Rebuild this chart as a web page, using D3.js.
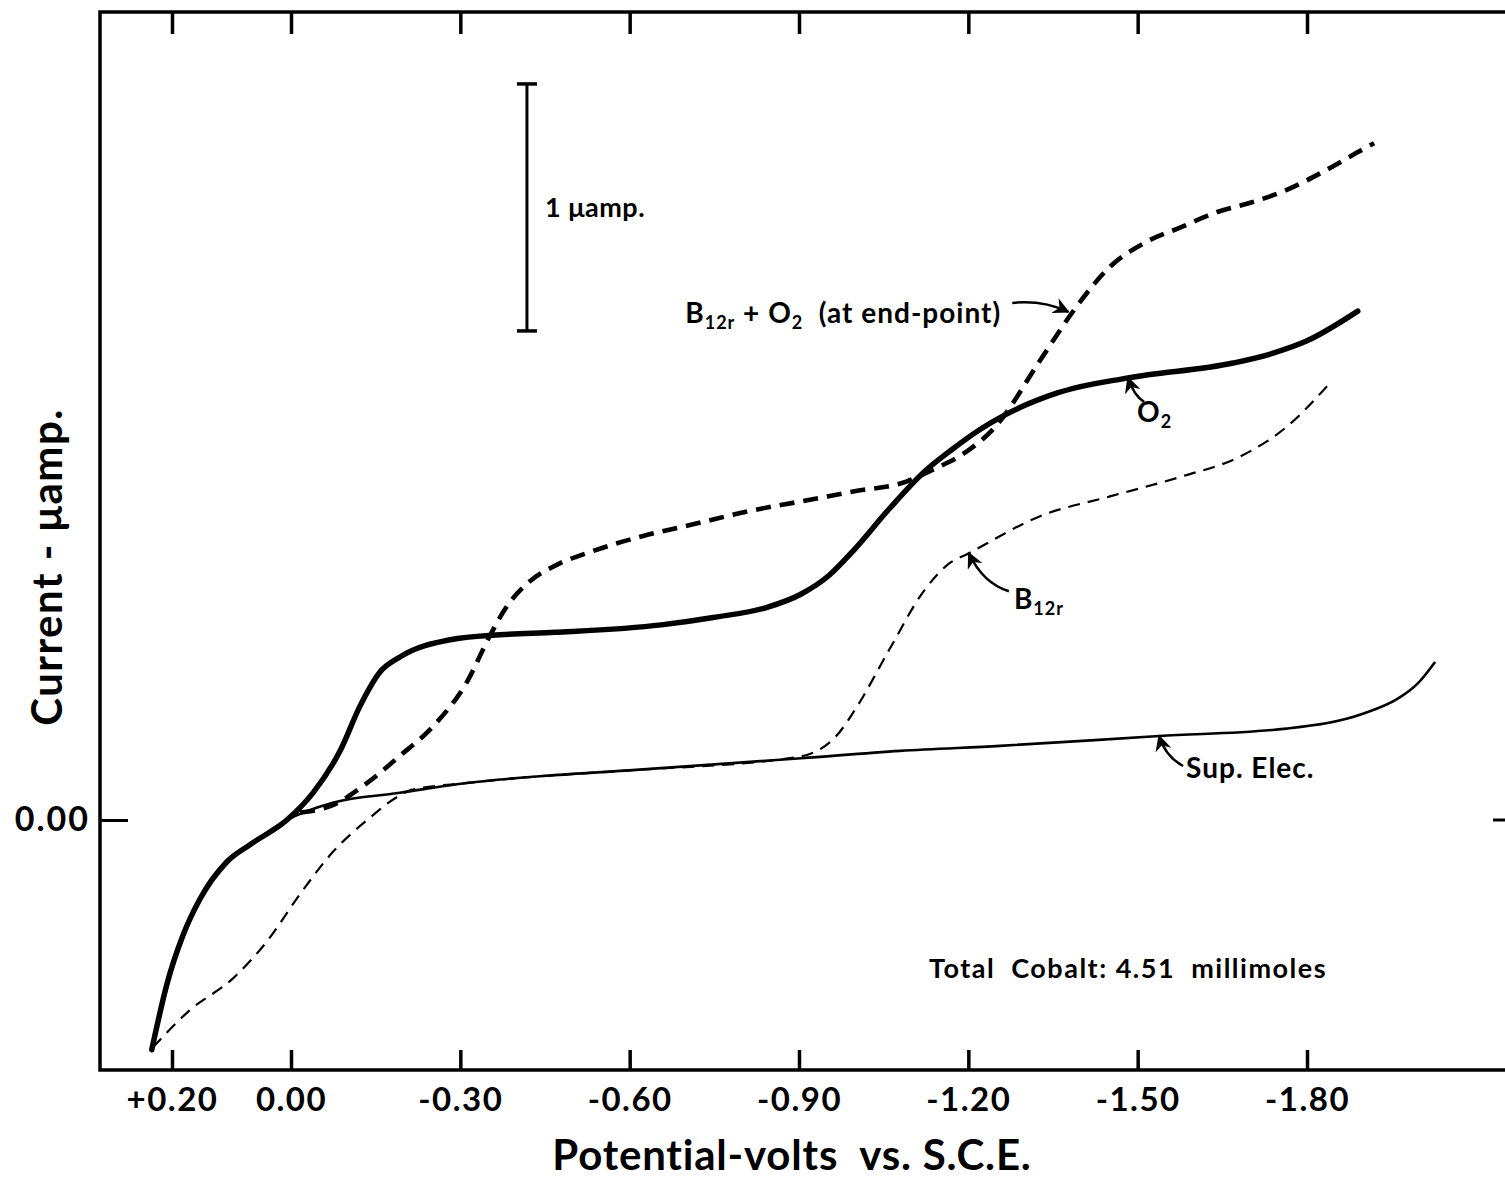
<!DOCTYPE html>
<html>
<head>
<meta charset="utf-8">
<script src="https://cdn.jsdelivr.net/npm/d3@7"></script>
<style>
  body { margin: 0; background: #fff; }
  svg text { font-family: Lato, "DejaVu Sans", sans-serif; font-weight: 700; fill: #000; white-space: pre; }
</style>
</head>
<body>
<svg id="chart" width="1505" height="1180"></svg>
<script>
// x = potential (volts vs. S.C.E.), y = current (microamp)
var xTicks = [0.2, 0, -0.3, -0.6, -0.9, -1.2, -1.5, -1.8];
var xTickLabels = ["+0.20", "0.00", "-0.30", "-0.60", "-0.90", "-1.20", "-1.50", "-1.80"];
var yTicks = [0];
var yTickLabels = ["0.00"];

// O2 (thick solid)
var o2 = [[0.234,-0.93],[0.208,-0.66],[0.182,-0.47],[0.153,-0.32],[0.108,-0.17],[0.069,-0.10],[0.007,0.00],
  [-0.039,0.11],[-0.087,0.28],[-0.122,0.46],[-0.158,0.60],[-0.193,0.66],[-0.282,0.73],[-0.370,0.75],
  [-0.468,0.76],[-0.656,0.79],[-0.748,0.82],[-0.842,0.86],[-0.904,0.915],[-0.953,0.99],[-0.996,1.09],
  [-1.060,1.26],[-1.122,1.41],[-1.171,1.50],[-1.220,1.58],[-1.265,1.64],[-1.359,1.73],[-1.483,1.79],
  [-1.669,1.85],[-1.740,1.89],[-1.800,1.94],[-1.890,2.06]];

// supporting electrolyte (thin solid)
var supElec = [[0.234,-0.93],[0.208,-0.66],[0.182,-0.47],[0.153,-0.32],[0.108,-0.17],[0.069,-0.10],[0.007,0.00],
  [-0.074,0.07],[-0.193,0.11],[-0.312,0.15],[-0.459,0.18],[-0.592,0.20],[-0.904,0.25],[-1.079,0.28],
  [-1.256,0.30],[-1.538,0.34],[-1.763,0.37],[-1.899,0.43],[-1.960,0.49],[-1.995,0.55],[-2.027,0.64]];

// B12r (thin dashed)
var b12r = [[0.232,-0.92],[0.170,-0.77],[0.097,-0.64],[0.040,-0.49],[-0.016,-0.30],[-0.074,-0.13],
  [-0.135,0.00],[-0.193,0.10],[-0.211,0.12],[-0.312,0.15],[-0.459,0.18],[-0.592,0.20],[-0.897,0.255],
  [-0.966,0.34],[-1.003,0.46],[-1.060,0.69],[-1.122,0.93],[-1.164,1.035],[-1.201,1.08],[-1.327,1.23],
  [-1.451,1.31],[-1.577,1.39],[-1.680,1.47],[-1.763,1.59],[-1.841,1.77]];

// B12r + O2 at end-point (thick dashed)
var b12rO2 = [[-0.016,0.03],[-0.074,0.06],[-0.135,0.15],[-0.193,0.26],[-0.252,0.38],[-0.312,0.56],
  [-0.351,0.74],[-0.381,0.86],[-0.425,0.97],[-0.468,1.03],[-0.530,1.085],[-0.624,1.15],[-0.718,1.20],
  [-0.810,1.25],[-0.904,1.29],[-0.996,1.33],[-1.090,1.37],[-1.139,1.42],[-1.196,1.49],[-1.247,1.59],
  [-1.327,1.86],[-1.389,2.07],[-1.451,2.24],[-1.515,2.34],[-1.577,2.40],[-1.639,2.46],[-1.701,2.50],
  [-1.763,2.55],[-1.825,2.62],[-1.887,2.70],[-1.919,2.74]];

var svg = d3.select("#chart");
var padL = 100, padT = 12, padB = 1070, padR = 1508;

var x = d3.scaleLinear().domain([0.2, 0, -1.8]).range([172, 291, 1307]);
var y = d3.scaleLinear().domain([0, 1]).range([820, 573]);

var line = d3.line()
  .x(function (d) { return x(d[0]); })
  .y(function (d) { return y(d[1]); })
  .curve(d3.curveMonotoneX);

// frame
svg.append("rect")
  .attr("x", padL).attr("y", padT)
  .attr("width", padR - padL).attr("height", padB - padT)
  .attr("fill", "none").attr("stroke", "#000").attr("stroke-width", 3.5);

// bottom axis, ticks pointing in
var gx = svg.append("g").attr("transform", "translate(0," + padB + ")")
  .call(d3.axisBottom(x).tickValues(xTicks)
    .tickFormat(function (d, i) { return xTickLabels[i]; })
    .tickSizeInner(-20).tickSizeOuter(0).tickPadding(18));
gx.select(".domain").remove();
gx.selectAll("line").attr("stroke-width", 3.5);
gx.selectAll("text").attr("font-size", 33).style("font-family", "Lato").style("font-weight", 700)
  .style("letter-spacing", "1.5px");

// top axis, ticks only
var gt = svg.append("g").attr("transform", "translate(0," + padT + ")")
  .call(d3.axisTop(x).tickValues(xTicks).tickFormat("").tickSizeInner(-22).tickSizeOuter(0));
gt.select(".domain").remove();
gt.selectAll("line").attr("stroke-width", 3.5);

// left axis, only 0.00
var gy = svg.append("g").attr("transform", "translate(" + padL + ",0)")
  .call(d3.axisLeft(y).tickValues(yTicks)
    .tickFormat(function (d, i) { return yTickLabels[i]; })
    .tickSizeInner(-28).tickSizeOuter(0).tickPadding(10));
gy.select(".domain").remove();
gy.selectAll("line").attr("stroke-width", 3);
gy.selectAll("text").attr("font-size", 34).style("font-family", "Lato").style("font-weight", 700)
  .style("letter-spacing", "2px");

// right side tick at zero
svg.append("line")
  .attr("x1", 1493).attr("x2", padR).attr("y1", y(0)).attr("y2", y(0))
  .attr("stroke", "#000").attr("stroke-width", 3);

// curves
svg.append("path").datum(supElec).attr("d", line)
  .attr("fill", "none").attr("stroke", "#000").attr("stroke-width", 2.6);
svg.append("path").datum(b12r).attr("d", line)
  .attr("fill", "none").attr("stroke", "#000").attr("stroke-width", 2.2)
  .attr("stroke-dasharray", "12,8");
svg.append("path").datum(b12rO2).attr("d", line)
  .attr("fill", "none").attr("stroke", "#000").attr("stroke-width", 4.6)
  .attr("stroke-dasharray", "15,9");
svg.append("path").datum(o2).attr("d", line)
  .attr("fill", "none").attr("stroke", "#000").attr("stroke-width", 5.5)
  .attr("stroke-linecap", "round");

// scale bar: 1 microamp
var barV = -0.418, barLow = 1.98, barLen = 1;
var bx = x(barV);
svg.append("line").attr("x1", bx).attr("x2", bx).attr("y1", y(barLow)).attr("y2", y(barLow + barLen))
  .attr("stroke", "#000").attr("stroke-width", 3);
[barLow, barLow + barLen].forEach(function (v) {
  svg.append("line").attr("x1", bx - 10).attr("x2", bx + 10).attr("y1", y(v)).attr("y2", y(v))
    .attr("stroke", "#000").attr("stroke-width", 3.5);
});
svg.append("text").attr("x", bx + 18).attr("y", y(barLow + barLen / 2) + 10)
  .attr("font-size", 27).style("letter-spacing", "0.5px").text("1 \u03bcamp.");

// arrowhead
svg.append("defs").append("marker")
  .attr("id", "arr").attr("viewBox", "0 0 10 10").attr("refX", 9).attr("refY", 5)
  .attr("markerWidth", 6.5).attr("markerHeight", 6.5).attr("orient", "auto")
  .append("path").attr("d", "M0,0 L10,5 L0,10 L3,5 Z").attr("fill", "#000");

// annotation labels: tip in data units, label offsets in px
var notes = [
  { tip: [-1.377, 2.057], from: [-56, -9], ctrl: [-25, -12], parts: [["B",""],["12r","sub"],[" + O",""],["2","sub"],["  (at end-point)",""]], tx: -383, ty: 11 },
  { tip: [-1.483, 1.79], from: [16, 24], ctrl: [6, 18], parts: [["O",""],["2","sub"]], tx: 9, ty: 44 },
  { tip: [-1.201, 1.08], from: [40, 38], ctrl: [14, 30], parts: [["B",""],["12r","sub"]], tx: 45, ty: 56 },
  { tip: [-1.538, 0.34], from: [24, 30], ctrl: [6, 20], parts: [["Sup. Elec.",""]], tx: 27, ty: 42 }
];
notes.forEach(function (n) {
  var tx = x(n.tip[0]), ty = y(n.tip[1]);
  svg.append("path")
    .attr("d", "M" + (tx + n.from[0]) + "," + (ty + n.from[1]) + " Q" + (tx + n.ctrl[0]) + "," + (ty + n.ctrl[1]) + " " + tx + "," + ty)
    .attr("fill", "none").attr("stroke", "#000").attr("stroke-width", 2.5)
    .attr("marker-end", "url(#arr)");
  var t = svg.append("text").attr("x", tx + n.tx).attr("y", ty + n.ty).attr("font-size", 28)
    .style("letter-spacing", "1px");
  n.parts.forEach(function (p) {
    var s = t.append("tspan").text(p[0]);
    if (p[1] === "sub") s.attr("font-size", 18).attr("dy", 6);
    else if (t.selectAll("tspan").size() > 1) s.attr("dy", -6);
  });
});

svg.append("text").attr("x", 929).attr("y", 978).attr("font-size", 27)
  .style("letter-spacing", "1.5px")
  .text("Total  Cobalt: 4.51  millimoles");

// axis titles
svg.append("text").attr("x", 792).attr("y", 1170).attr("text-anchor", "middle")
  .attr("font-size", 42).style("letter-spacing", "0.8px").text("Potential-volts  vs. S.C.E.");
svg.append("text").attr("transform", "translate(62,567) rotate(-90)").attr("text-anchor", "middle")
  .attr("font-size", 42).style("letter-spacing", "1.5px").text("Current - \u03bcamp.");
</script>
</body>
</html>
